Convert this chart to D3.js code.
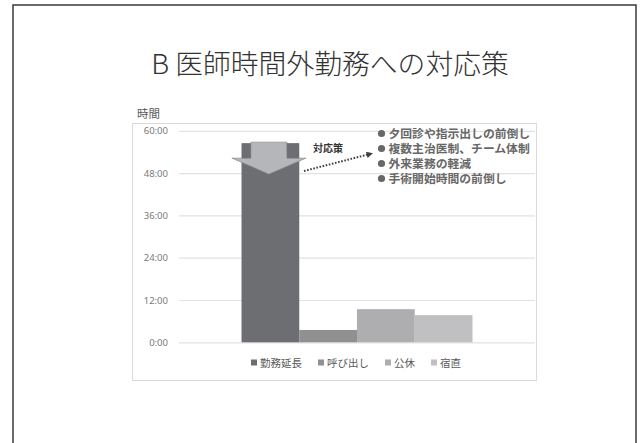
<!DOCTYPE html>
<html lang="ja">
<head>
<meta charset="utf-8">
<script src="https://cdn.jsdelivr.net/npm/d3@7/dist/d3.min.js"></script>
<style>
  html, body { margin: 0; padding: 0; background: #fff; }
  svg { display: block; font-family: "Noto Sans CJK JP", "Noto Sans", sans-serif; }
</style>
</head>
<body>
<svg id="chart" width="643" height="443"></svg>
<script>
// Overtime categories and hours per category (decimal hours)
const series = ["勤務延長", "呼び出し", "公休", "宿直"];
const hours = [56.5, 3.5, 9.4, 7.7];
const colors = ["#6d6e71", "#909093", "#aeaeb1", "#c0c0c3"];
const yTicks = [0, 12, 24, 36, 48, 60];
const measures = [
  "夕回診や指示出しの前倒し",
  "複数主治医制、チーム体制",
  "外来業務の軽減",
  "手術開始時間の前倒し"
];
const titleText = "B 医師時間外勤務への対応策";
const yLabel = "時間";
const arrowLabel = "対応策";

const svg = d3.select("#chart");

// slide frame
svg.append("rect")
  .attr("x", 13).attr("y", 5)
  .attr("width", 623).attr("height", 460)
  .attr("fill", "none").attr("stroke", "#3a3a3a").attr("stroke-width", 1.5);

// slide title
svg.append("text")
  .attr("x", 330).attr("y", 62)
  .attr("text-anchor", "middle").attr("dominant-baseline", "central")
  .attr("font-size", 27.8).attr("font-weight", 300).attr("fill", "#333")
  .text(titleText);

// chart box
svg.append("rect")
  .attr("x", 132.5).attr("y", 123.5)
  .attr("width", 404).attr("height", 257)
  .attr("fill", "#fff").attr("stroke", "#d9d9d9").attr("stroke-width", 1);

svg.append("text")
  .attr("x", 137).attr("y", 113)
  .attr("dominant-baseline", "central")
  .attr("font-size", 11.5).attr("fill", "#595959")
  .text(yLabel);

const plot = { left: 179, right: 535, top: 130.8, bottom: 342.3 };

const y = d3.scaleLinear().domain([0, 60]).range([plot.bottom, plot.top]);
const group = d3.scaleBand().domain(["all"]).range([plot.left, plot.right])
  .paddingInner(0.213).paddingOuter(0.213);
const x = d3.scaleBand().domain(series)
  .range([group("all"), group("all") + group.bandwidth()]).padding(0);

const fmt = h => `${Math.floor(h)}:${String(Math.round((h % 1) * 60)).padStart(2, "0")}`;

// gridlines and tick labels
const yAxis = d3.axisLeft(y).tickValues(yTicks).tickFormat(fmt)
  .tickSize(-(plot.right - plot.left)).tickPadding(11);
const ya = svg.append("g").attr("transform", `translate(${plot.left},0)`).call(yAxis);
ya.select(".domain").remove();
ya.selectAll(".tick line").attr("stroke", "#e2e2e2").attr("stroke-width", 1.2);
ya.selectAll(".tick text").attr("fill", "#7a7a7a").attr("font-size", 9.5)
  .attr("font-family", "'Noto Sans', 'DejaVu Sans', sans-serif");

// bars
svg.append("g").selectAll("rect")
  .data(series.map((s, i) => ({ s, v: hours[i], c: colors[i] })))
  .join("rect")
  .attr("x", d => x(d.s))
  .attr("width", x.bandwidth())
  .attr("y", d => y(d.v))
  .attr("height", d => y(0) - y(d.v))
  .attr("fill", d => d.c);

// downward arrow over the first bar
const arrowX = x(series[0]) + x.bandwidth() / 2 - 1.5;
const arrowTop = y(hours[0]) - 1;
const arrowPts = [
  [arrowX - 18, arrowTop], [arrowX + 18, arrowTop], [arrowX + 18, arrowTop + 16],
  [arrowX + 37, arrowTop + 16], [arrowX, arrowTop + 32],
  [arrowX - 37, arrowTop + 16], [arrowX - 18, arrowTop + 16]
];
svg.append("path")
  .attr("d", d3.line()(arrowPts) + "Z")
  .attr("fill", "#b5b6b9").attr("stroke", "#7f7f7f").attr("stroke-width", 0.6);

// dotted pointer toward the measures list
svg.append("defs").append("marker")
  .attr("id", "tip").attr("viewBox", "0 0 10 10")
  .attr("refX", 2).attr("refY", 5)
  .attr("markerWidth", 3.2).attr("markerHeight", 3.2)
  .attr("orient", "auto")
  .append("path").attr("d", "M0,0L10,5L0,10Z").attr("fill", "#404040");
svg.append("line")
  .attr("x1", 304).attr("y1", 171).attr("x2", 368).attr("y2", 154.5)
  .attr("stroke", "#404040").attr("stroke-width", 2)
  .attr("stroke-dasharray", "1.6,1.6")
  .attr("marker-end", "url(#tip)");

svg.append("text")
  .attr("x", 313).attr("y", 147)
  .attr("dominant-baseline", "central")
  .attr("font-size", 10).attr("font-weight", 700).attr("fill", "#333")
  .text(arrowLabel);

// bulleted list of measures (tight line metrics so the rows sit 15px apart)
const items = svg.append("g").selectAll("g")
  .data(measures)
  .join("g")
  .attr("transform", (d, i) => `translate(377,${133.5 + i * 15})`);
items.append("circle")
  .attr("cx", 4.5).attr("cy", 0).attr("r", 3.6)
  .attr("fill", "#676767");
items.append("text")
  .attr("x", 11.5).attr("y", 4.2)
  .attr("font-family", "'Liberation Sans', 'Noto Sans CJK JP', sans-serif")
  .attr("font-size", 11.8).attr("font-weight", 700).attr("fill", "#676767")
  .text(d => d);

// legend
const legend = svg.append("g");
let lx = 251;
series.forEach((s, i) => {
  legend.append("rect")
    .attr("x", lx).attr("y", 359.5).attr("width", 6).attr("height", 6)
    .attr("fill", colors[i]);
  const t = legend.append("text")
    .attr("x", lx + 9).attr("y", 362.7)
    .attr("dominant-baseline", "central")
    .attr("font-size", 10.5).attr("fill", "#595959")
    .text(s);
  lx += 9 + t.node().getComputedTextLength() + 16;
});
</script>
</body>
</html>
